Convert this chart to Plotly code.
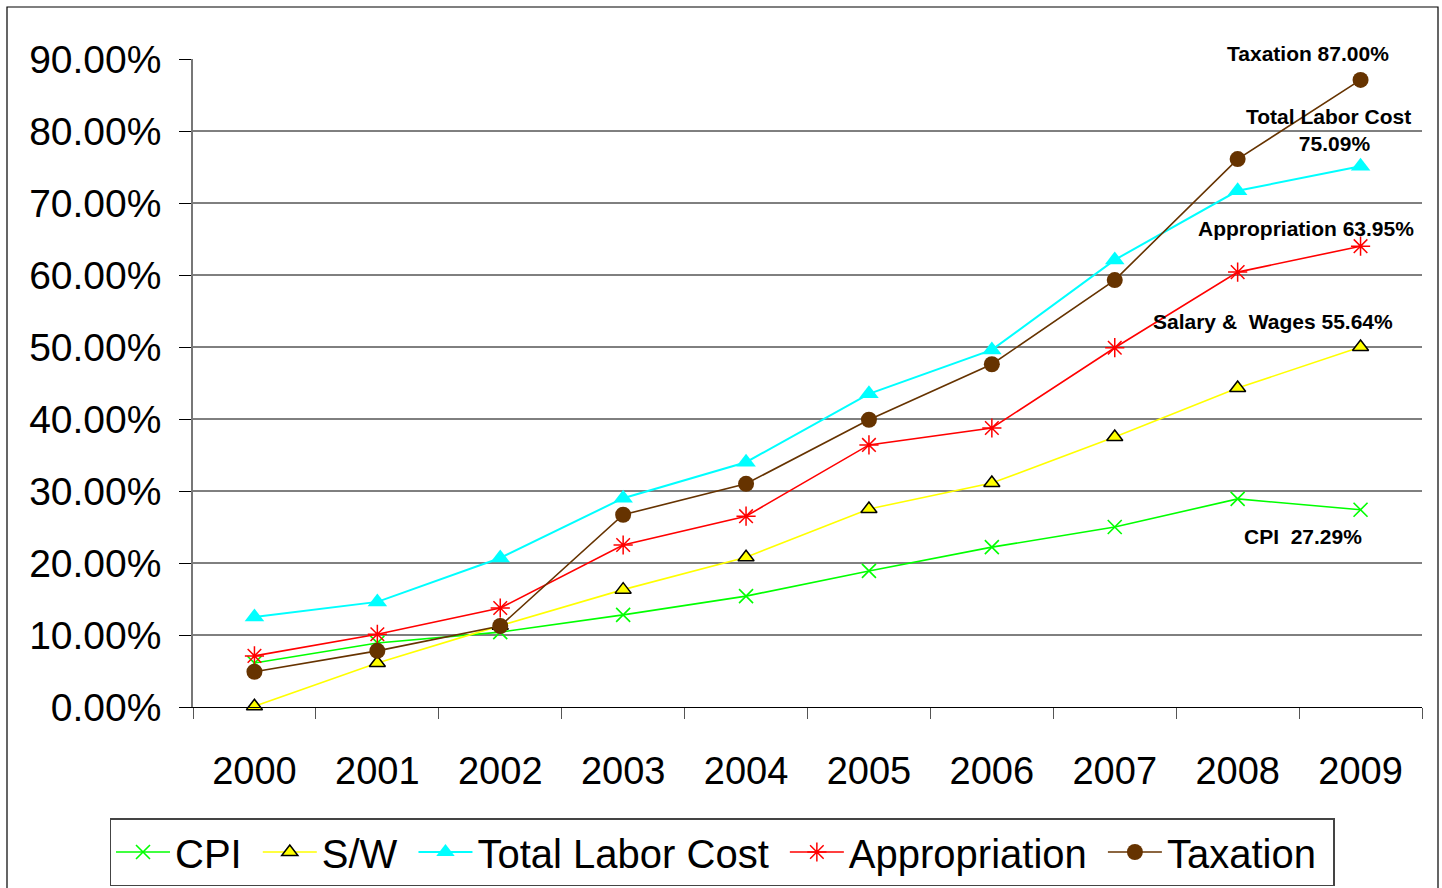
import plotly.graph_objects as go

years = ["2000", "2001", "2002", "2003", "2004", "2005", "2006", "2007", "2008", "2009"]
cpi = [6.1, 8.9, 10.4, 12.8, 15.4, 18.9, 22.2, 25.0, 28.9, 27.4]
sw = [0.1, 6.1, 11.3, 16.3, 20.8, 27.5, 31.1, 37.5, 44.3, 50.0]
tlc = [12.5, 14.6, 20.7, 29.0, 34.0, 43.5, 49.6, 62.1, 71.7, 75.1]
appropriation = [7.1, 10.1, 13.75, 22.5, 26.5, 36.4, 38.75, 49.9, 60.4, 64.0]
taxation = [4.9, 7.8, 11.25, 26.7, 31.0, 39.9, 47.6, 59.3, 76.1, 87.1]

y_ticks = [0, 10, 20, 30, 40, 50, 60, 70, 80, 90]
y_tick_text = ["%.2f%%" % v for v in y_ticks]

end_labels = [
    ("Taxation 87.00%", 8.575, 90.8),
    ("Total Labor Cost<br>  75.09%", 8.74, 80.2),
    ("Appropriation 63.95%", 8.56, 66.4),
    ("Salary &amp;  Wages 55.64%", 8.29, 53.5),
    ("CPI  27.29%", 8.53, 23.75),
]

PAD = "\u00a0"
Y_MAX = 90

fig = go.Figure()

fig.add_trace(go.Scatter(
    x=years, y=cpi, name="CPI" + PAD, mode="lines+markers",
    line=dict(color="#00FF00", width=1.6),
    marker=dict(symbol="x-thin", size=14, line=dict(color="#00FF00", width=1.6)),
    cliponaxis=False))
fig.add_trace(go.Scatter(
    x=years, y=sw, name="S/W" + PAD, mode="lines+markers",
    line=dict(color="#FFFF00", width=1.6),
    marker=dict(symbol="triangle-up", size=14, color="#FFFF00", line=dict(color="black", width=1.5)),
    cliponaxis=False))
fig.add_trace(go.Scatter(
    x=years, y=tlc, name="Total Labor Cost" + PAD, mode="lines+markers",
    line=dict(color="#00FFFF", width=2),
    marker=dict(symbol="triangle-up", size=17, color="#00FFFF", line=dict(width=0)),
    cliponaxis=False))
fig.add_trace(go.Scatter(
    x=years, y=appropriation, name="Appropriation" + PAD, mode="lines+markers",
    line=dict(color="#FF0000", width=1.6),
    marker=dict(symbol="asterisk-open", size=16, color="#FF0000", line=dict(color="#FF0000", width=1.5)),
    cliponaxis=False))
fig.add_trace(go.Scatter(
    x=years, y=taxation, name="Taxation" + PAD, mode="lines+markers",
    line=dict(color="#663300", width=1.6),
    marker=dict(symbol="circle", size=16, color="#663300", line=dict(width=0)),
    cliponaxis=False))

# horizontal gridlines (no line at the top value)
for v in y_ticks[1:-1]:
    fig.add_shape(type="line", xref="paper", yref="y", x0=0, x1=1, y0=v, y1=v,
                  line=dict(color="black", width=1), layer="below")

for text, xv, yv in end_labels:
    fig.add_annotation(x=xv, y=yv / Y_MAX, xref="x", yref="paper", text="<b>" + text + "</b>",
                       xanchor="center", yanchor="middle",
                       showarrow=False, font=dict(family="Liberation Sans, Arial", size=21, color="black"),
                       align="center")

# outer chart border
fig.add_shape(type="rect", xref="paper", yref="paper",
              x0=(7 - 193) / 1229, x1=(1438 - 193) / 1229,
              y0=-0.4, y1=(707 - 7) / 648,
              line=dict(color="black", width=1.2), fillcolor="rgba(0,0,0,0)")

fig.update_layout(
    width=1442, height=888,
    margin=dict(l=193, r=20, t=59, b=181, autoexpand=False),
    paper_bgcolor="white", plot_bgcolor="white",
    font=dict(family="Liberation Sans, Arial", color="black"),
    showlegend=True,
    legend=dict(
        orientation="h",
        x=(722 - 193) / 1229, xanchor="center", y=(707 - 818) / 648, yanchor="top",
        bordercolor="#444444", borderwidth=1.5, bgcolor="white",
        font=dict(size=40, family="Liberation Sans, Arial"),
        itemwidth=54, traceorder="normal",
    ),
    xaxis=dict(
        type="category", range=[-0.5, 9.5], showgrid=False,
        showline=True, linecolor="black", linewidth=1,
        ticks="outside", tickson="boundaries", ticklen=11, tickcolor="#555555", tickwidth=1.2,
        tickfont=dict(size=38), ticklabelstandoff=30, zeroline=False,
    ),
    yaxis=dict(
        range=[0, Y_MAX], tickvals=y_ticks, ticktext=y_tick_text,
        showgrid=False, zeroline=False,
        showline=True, linecolor="#777777", linewidth=1.5,
        ticks="outside", ticklen=12, tickcolor="black", tickwidth=1,
        tickfont=dict(size=39), ticklabelstandoff=10,
    ),
)

fig.write_html("out.html", config={"displayModeBar": False},
               post_script="document.body.style.margin='0px';document.body.style.overflow='hidden';")
